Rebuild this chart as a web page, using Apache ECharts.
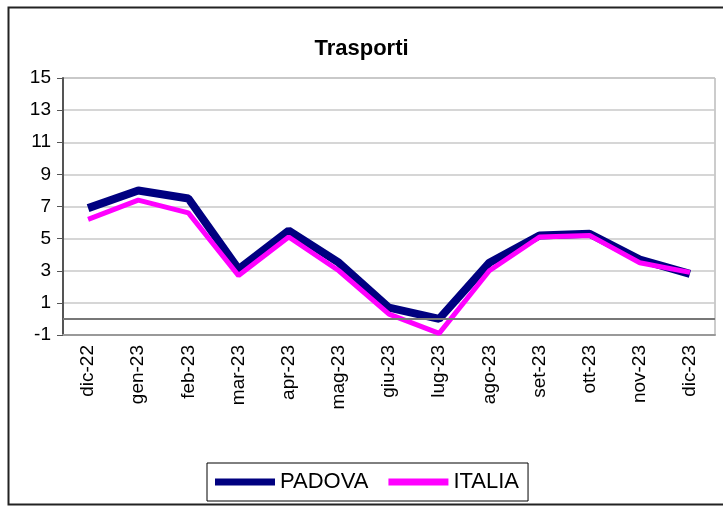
<!DOCTYPE html>
<html>
<head>
<meta charset="utf-8">
<script src="https://cdn.jsdelivr.net/npm/echarts@6/dist/echarts.min.js"></script>
<style>
html,body{margin:0;padding:0;background:#fff;}
#chart{width:723px;height:506px;}
</style>
</head>
<body>
<div id="chart"></div>
<script>
const categories = ['dic-22','gen-23','feb-23','mar-23','apr-23','mag-23','giu-23','lug-23','ago-23','set-23','ott-23','nov-23','dic-23'];
const padova = [6.9, 8.0, 7.5, 3.1, 5.5, 3.5, 0.7, 0.0, 3.5, 5.2, 5.3, 3.7, 2.8];
const italia = [6.2, 7.4, 6.6, 2.7, 5.1, 3.0, 0.3, -0.9, 3.0, 5.1, 5.2, 3.5, 2.9];
const yTicks = {min: -1, max: 15, interval: 2};

const chart = echarts.init(document.getElementById('chart'));
const font = 'Liberation Sans, Arial, sans-serif';
chart.setOption({
  animation: false,
  backgroundColor: '#fff',
  graphic: [{
    type: 'rect', left: 6, top: 5, z: -1,
    shape: {width: 730, height: 497},
    style: {fill: 'none', stroke: '#222', lineWidth: 2}
  }],
  title: {
    text: 'Trasporti', left: 'center', top: 33,
    textStyle: {fontFamily: font, fontSize: 22, fontWeight: 'bold', color: '#000'}
  },
  legend: {
    left: 207, top: 463,
    padding: [8, 9, 8, 8],
    borderColor: '#000', borderWidth: 1,
    itemWidth: 60, itemHeight: 7, itemGap: 20,
    icon: 'rect',
    textStyle: {fontFamily: font, fontSize: 22, color: '#000'},
    data: ['PADOVA', 'ITALIA']
  },
  grid: {
    left: 63, top: 78, right: 8, bottom: 171,
    show: true, borderColor: '#999', borderWidth: 1
  },
  xAxis: {
    type: 'category', data: categories, boundaryGap: true,
    axisLine: {onZero: false, lineStyle: {color: '#999', width: 2}},
    axisTick: {show: false},
    axisLabel: {rotate: 90, fontFamily: font, fontSize: 19, color: '#000', margin: 10}
  },
  yAxis: {
    type: 'value', min: yTicks.min, max: yTicks.max, interval: yTicks.interval,
    axisLine: {show: true, lineStyle: {color: '#555', width: 2}},
    axisTick: {show: true, length: 6, lineStyle: {color: '#555'}},
    axisLabel: {fontFamily: font, fontSize: 19, color: '#000', margin: 12},
    splitLine: {lineStyle: {color: '#c8c8c8', width: 1.5}}
  },
  series: [
    {
      name: 'PADOVA', type: 'line', data: padova, symbol: 'none',
      lineStyle: {color: '#000080', width: 8}, itemStyle: {color: '#000080'},
      markLine: {
        silent: true, symbol: 'none', label: {show: false},
        lineStyle: {color: '#777', width: 2, type: 'solid'},
        data: [{yAxis: 0}]
      }
    },
    {
      name: 'ITALIA', type: 'line', data: italia, symbol: 'none',
      lineStyle: {color: '#ff00ff', width: 5}, itemStyle: {color: '#ff00ff'}
    }
  ]
});
</script>
</body>
</html>
